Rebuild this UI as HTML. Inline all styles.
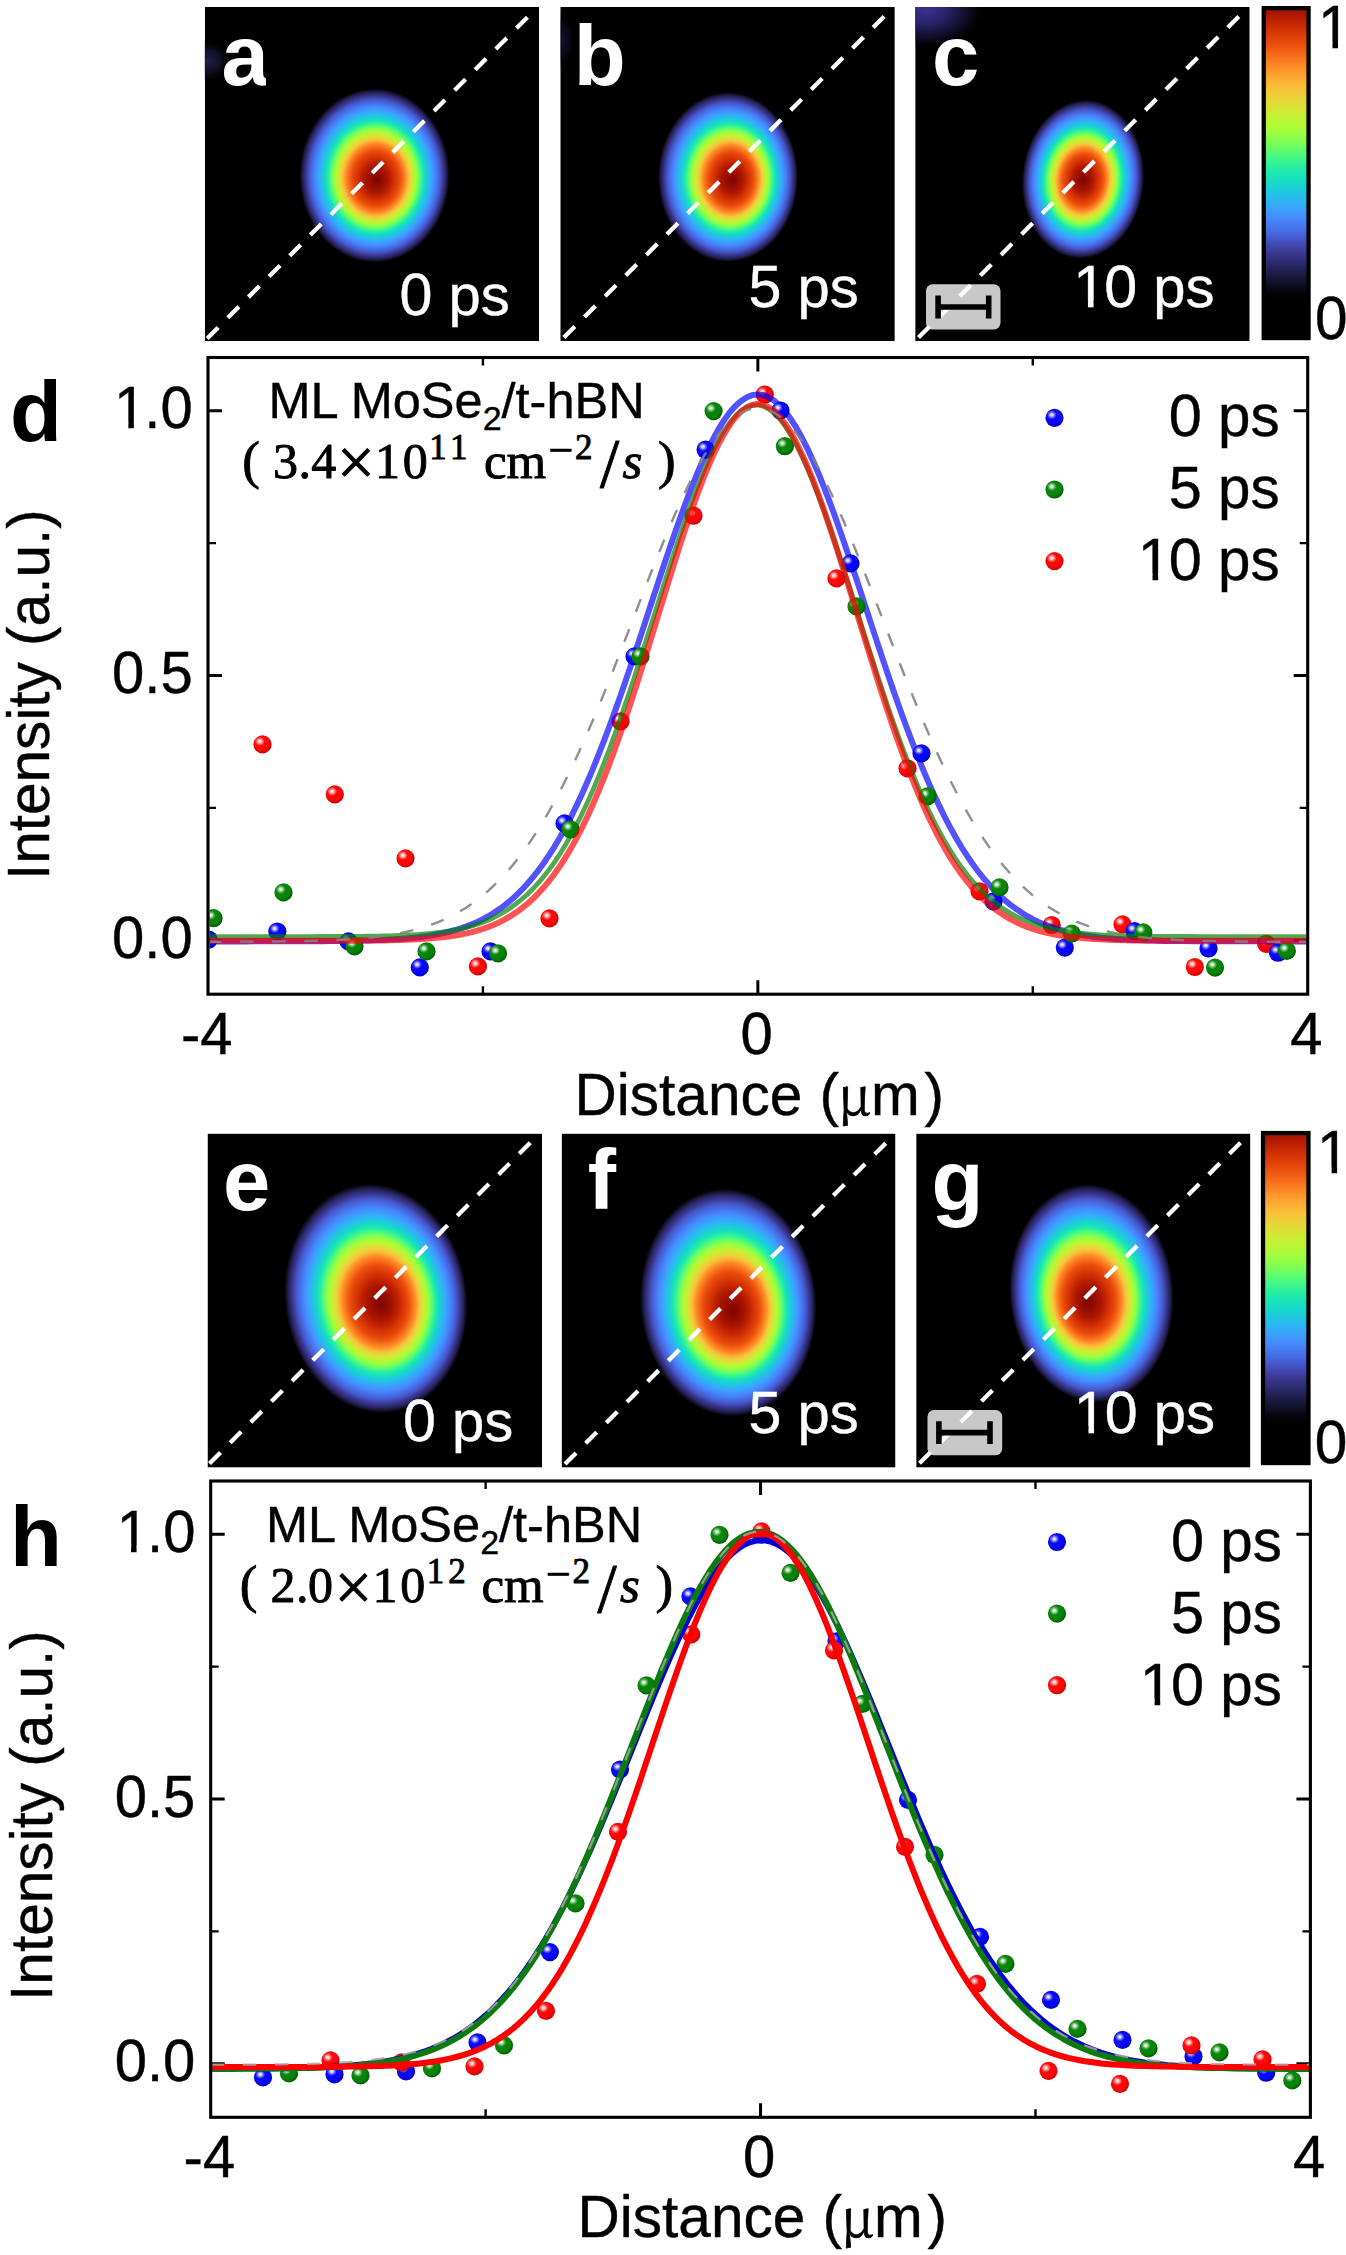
<!DOCTYPE html><html><head><meta charset="utf-8"><title>Exciton diffusion imaging: ML MoSe2/t-hBN</title><style>html,body{margin:0;padding:0;background:#fff}svg{display:block}</style></head><body><svg width="1346" height="2255" viewBox="0 0 1346 2255"><defs><linearGradient id="cb" x1="0" y1="0" x2="0" y2="1"><stop offset="0.0000" stop-color="#a41301"/><stop offset="0.0227" stop-color="#b71d02"/><stop offset="0.0455" stop-color="#ca2a04"/><stop offset="0.0682" stop-color="#d83706"/><stop offset="0.0909" stop-color="#e4450a"/><stop offset="0.1136" stop-color="#ed5510"/><stop offset="0.1364" stop-color="#f56918"/><stop offset="0.1591" stop-color="#fb7e21"/><stop offset="0.1818" stop-color="#fe932a"/><stop offset="0.2045" stop-color="#fea732"/><stop offset="0.2273" stop-color="#fbb838"/><stop offset="0.2500" stop-color="#f4c73a"/><stop offset="0.2727" stop-color="#e9d539"/><stop offset="0.2955" stop-color="#dbe236"/><stop offset="0.3182" stop-color="#cbed34"/><stop offset="0.3409" stop-color="#b9f635"/><stop offset="0.3636" stop-color="#a7fc3a"/><stop offset="0.3864" stop-color="#92ff47"/><stop offset="0.4091" stop-color="#79fe59"/><stop offset="0.4318" stop-color="#5dfc6f"/><stop offset="0.4545" stop-color="#43f787"/><stop offset="0.4773" stop-color="#2cf09e"/><stop offset="0.5000" stop-color="#1de7b2"/><stop offset="0.5227" stop-color="#18ddc2"/><stop offset="0.5455" stop-color="#1bd0d5"/><stop offset="0.5682" stop-color="#25c0e7"/><stop offset="0.5909" stop-color="#31aff5"/><stop offset="0.6136" stop-color="#3d9efe"/><stop offset="0.6364" stop-color="#458cfd"/><stop offset="0.6591" stop-color="#477bf2"/><stop offset="0.6818" stop-color="#4669e0"/><stop offset="0.7045" stop-color="#4456c7"/><stop offset="0.7273" stop-color="#4143a7"/><stop offset="0.7500" stop-color="#37358b"/><stop offset="0.7727" stop-color="#2e2c73"/><stop offset="0.7955" stop-color="#242257"/><stop offset="0.8182" stop-color="#19183d"/><stop offset="0.8409" stop-color="#0f0f24"/><stop offset="0.8636" stop-color="#05050b"/><stop offset="0.8864" stop-color="#000000"/><stop offset="0.9091" stop-color="#000000"/><stop offset="0.9318" stop-color="#000000"/><stop offset="0.9545" stop-color="#000000"/><stop offset="0.9773" stop-color="#000000"/><stop offset="1.0000" stop-color="#000000"/></linearGradient><radialGradient id="sb_b" cx="0.42" cy="0.40" r="0.62"><stop offset="0" stop-color="#0808f8"/><stop offset="0.65" stop-color="#0808f8"/><stop offset="1" stop-color="#0000c0"/></radialGradient><radialGradient id="sb_h" cx="0.5" cy="0.5" r="0.5"><stop offset="0" stop-color="#fff" stop-opacity="0.95"/><stop offset="0.3" stop-color="#fff" stop-opacity="0.8"/><stop offset="0.6" stop-color="#a0a0ff" stop-opacity="0.6"/><stop offset="1" stop-color="#a0a0ff" stop-opacity="0"/></radialGradient><g id="sb"><circle r="9.1" fill="url(#sb_b)"/><ellipse cx="-2.7" cy="-3.0" rx="5.0" ry="4.6" fill="url(#sb_h)"/></g><radialGradient id="sg_b" cx="0.42" cy="0.40" r="0.62"><stop offset="0" stop-color="#088408"/><stop offset="0.65" stop-color="#088408"/><stop offset="1" stop-color="#005c00"/></radialGradient><radialGradient id="sg_h" cx="0.5" cy="0.5" r="0.5"><stop offset="0" stop-color="#fff" stop-opacity="0.95"/><stop offset="0.3" stop-color="#fff" stop-opacity="0.8"/><stop offset="0.6" stop-color="#a0d8a0" stop-opacity="0.6"/><stop offset="1" stop-color="#a0d8a0" stop-opacity="0"/></radialGradient><g id="sg"><circle r="9.1" fill="url(#sg_b)"/><ellipse cx="-2.7" cy="-3.0" rx="5.0" ry="4.6" fill="url(#sg_h)"/></g><radialGradient id="sr_b" cx="0.42" cy="0.40" r="0.62"><stop offset="0" stop-color="#fc0808"/><stop offset="0.65" stop-color="#fc0808"/><stop offset="1" stop-color="#cc0000"/></radialGradient><radialGradient id="sr_h" cx="0.5" cy="0.5" r="0.5"><stop offset="0" stop-color="#fff" stop-opacity="0.95"/><stop offset="0.3" stop-color="#fff" stop-opacity="0.8"/><stop offset="0.6" stop-color="#ffb0b0" stop-opacity="0.6"/><stop offset="1" stop-color="#ffb0b0" stop-opacity="0"/></radialGradient><g id="sr"><circle r="9.1" fill="url(#sr_b)"/><ellipse cx="-2.7" cy="-3.0" rx="5.0" ry="4.6" fill="url(#sr_h)"/></g><radialGradient id="glc" cx="0.5" cy="0.5" r="0.5"><stop offset="0" stop-color="#3a3192"/><stop offset="0.35" stop-color="#2e2776" stop-opacity="0.9"/><stop offset="0.7" stop-color="#1a1640" stop-opacity="0.6"/><stop offset="1" stop-color="#000" stop-opacity="0"/></radialGradient><radialGradient id="gla" cx="0.5" cy="0.5" r="0.5"><stop offset="0" stop-color="#20204e"/><stop offset="0.5" stop-color="#14142f" stop-opacity="0.8"/><stop offset="1" stop-color="#000" stop-opacity="0"/></radialGradient><clipPath id="clip_a"><rect x="204.80" y="6.90" width="334.30" height="334.10"/></clipPath><radialGradient id="ga" cx="0.5" cy="0.5" r="0.5" fx="0.514" fy="0.526"><stop offset="0.0000" stop-color="#7e0502"/><stop offset="0.0179" stop-color="#810602"/><stop offset="0.0357" stop-color="#880802"/><stop offset="0.0536" stop-color="#8e0a01"/><stop offset="0.0714" stop-color="#920b01"/><stop offset="0.0893" stop-color="#980e01"/><stop offset="0.1071" stop-color="#9e1001"/><stop offset="0.1250" stop-color="#a41301"/><stop offset="0.1429" stop-color="#a71401"/><stop offset="0.1607" stop-color="#af1801"/><stop offset="0.1786" stop-color="#b71d02"/><stop offset="0.1964" stop-color="#be2102"/><stop offset="0.2143" stop-color="#c52603"/><stop offset="0.2321" stop-color="#ce2d04"/><stop offset="0.2500" stop-color="#d43305"/><stop offset="0.2679" stop-color="#da3907"/><stop offset="0.2857" stop-color="#df3f08"/><stop offset="0.3036" stop-color="#e5470b"/><stop offset="0.3214" stop-color="#ea4e0d"/><stop offset="0.3393" stop-color="#f05b12"/><stop offset="0.3571" stop-color="#f56918"/><stop offset="0.3750" stop-color="#f9781e"/><stop offset="0.3929" stop-color="#fc8725"/><stop offset="0.4107" stop-color="#fe992c"/><stop offset="0.4286" stop-color="#fcb136"/><stop offset="0.4464" stop-color="#f5c53a"/><stop offset="0.4643" stop-color="#e9d539"/><stop offset="0.4821" stop-color="#dbe236"/><stop offset="0.5000" stop-color="#cbed34"/><stop offset="0.5179" stop-color="#b9f635"/><stop offset="0.5357" stop-color="#a7fc3a"/><stop offset="0.5536" stop-color="#92ff47"/><stop offset="0.5714" stop-color="#79fe59"/><stop offset="0.5893" stop-color="#5dfc6f"/><stop offset="0.6071" stop-color="#43f787"/><stop offset="0.6250" stop-color="#2cf09e"/><stop offset="0.6429" stop-color="#1de7b2"/><stop offset="0.6607" stop-color="#18ddc2"/><stop offset="0.6786" stop-color="#1ad2d2"/><stop offset="0.6964" stop-color="#1fc9dd"/><stop offset="0.7143" stop-color="#27bee9"/><stop offset="0.7321" stop-color="#2fb2f4"/><stop offset="0.7500" stop-color="#37a8fa"/><stop offset="0.7679" stop-color="#3e9bfe"/><stop offset="0.7857" stop-color="#4391fe"/><stop offset="0.8036" stop-color="#4685fa"/><stop offset="0.8214" stop-color="#477bf2"/><stop offset="0.8393" stop-color="#476ee6"/><stop offset="0.8571" stop-color="#4664da"/><stop offset="0.8750" stop-color="#4559cb"/><stop offset="0.8929" stop-color="#424bb5"/><stop offset="0.9107" stop-color="#3c3b99"/><stop offset="0.9286" stop-color="#333281"/><stop offset="0.9464" stop-color="#2a2867"/><stop offset="0.9643" stop-color="#1e1c48"/><stop offset="0.9821" stop-color="#0f0e23"/><stop offset="1.0000" stop-color="#000000"/></radialGradient><clipPath id="clip_b"><rect x="560.30" y="6.90" width="334.50" height="334.10"/></clipPath><radialGradient id="gb" cx="0.5" cy="0.5" r="0.5" fx="0.532" fy="0.518"><stop offset="0.0000" stop-color="#7e0502"/><stop offset="0.0179" stop-color="#810602"/><stop offset="0.0357" stop-color="#880802"/><stop offset="0.0536" stop-color="#8e0a01"/><stop offset="0.0714" stop-color="#920b01"/><stop offset="0.0893" stop-color="#980e01"/><stop offset="0.1071" stop-color="#9e1001"/><stop offset="0.1250" stop-color="#a41301"/><stop offset="0.1429" stop-color="#a71401"/><stop offset="0.1607" stop-color="#af1801"/><stop offset="0.1786" stop-color="#b71d02"/><stop offset="0.1964" stop-color="#be2102"/><stop offset="0.2143" stop-color="#c52603"/><stop offset="0.2321" stop-color="#ce2d04"/><stop offset="0.2500" stop-color="#d43305"/><stop offset="0.2679" stop-color="#da3907"/><stop offset="0.2857" stop-color="#df3f08"/><stop offset="0.3036" stop-color="#e5470b"/><stop offset="0.3214" stop-color="#ea4e0d"/><stop offset="0.3393" stop-color="#f05b12"/><stop offset="0.3571" stop-color="#f56918"/><stop offset="0.3750" stop-color="#f9781e"/><stop offset="0.3929" stop-color="#fc8725"/><stop offset="0.4107" stop-color="#fe992c"/><stop offset="0.4286" stop-color="#fcb136"/><stop offset="0.4464" stop-color="#f5c53a"/><stop offset="0.4643" stop-color="#e9d539"/><stop offset="0.4821" stop-color="#dbe236"/><stop offset="0.5000" stop-color="#cbed34"/><stop offset="0.5179" stop-color="#b9f635"/><stop offset="0.5357" stop-color="#a7fc3a"/><stop offset="0.5536" stop-color="#92ff47"/><stop offset="0.5714" stop-color="#79fe59"/><stop offset="0.5893" stop-color="#5dfc6f"/><stop offset="0.6071" stop-color="#43f787"/><stop offset="0.6250" stop-color="#2cf09e"/><stop offset="0.6429" stop-color="#1de7b2"/><stop offset="0.6607" stop-color="#18ddc2"/><stop offset="0.6786" stop-color="#1ad2d2"/><stop offset="0.6964" stop-color="#1fc9dd"/><stop offset="0.7143" stop-color="#27bee9"/><stop offset="0.7321" stop-color="#2fb2f4"/><stop offset="0.7500" stop-color="#37a8fa"/><stop offset="0.7679" stop-color="#3e9bfe"/><stop offset="0.7857" stop-color="#4391fe"/><stop offset="0.8036" stop-color="#4685fa"/><stop offset="0.8214" stop-color="#477bf2"/><stop offset="0.8393" stop-color="#476ee6"/><stop offset="0.8571" stop-color="#4664da"/><stop offset="0.8750" stop-color="#4559cb"/><stop offset="0.8929" stop-color="#424bb5"/><stop offset="0.9107" stop-color="#3c3b99"/><stop offset="0.9286" stop-color="#333281"/><stop offset="0.9464" stop-color="#2a2867"/><stop offset="0.9643" stop-color="#1e1c48"/><stop offset="0.9821" stop-color="#0f0e23"/><stop offset="1.0000" stop-color="#000000"/></radialGradient><clipPath id="clip_c"><rect x="915.20" y="6.90" width="334.50" height="334.10"/></clipPath><radialGradient id="gc" cx="0.5" cy="0.5" r="0.5" fx="0.501" fy="0.505"><stop offset="0.0000" stop-color="#7e0502"/><stop offset="0.0179" stop-color="#810602"/><stop offset="0.0357" stop-color="#880802"/><stop offset="0.0536" stop-color="#8e0a01"/><stop offset="0.0714" stop-color="#920b01"/><stop offset="0.0893" stop-color="#980e01"/><stop offset="0.1071" stop-color="#9e1001"/><stop offset="0.1250" stop-color="#a41301"/><stop offset="0.1429" stop-color="#a71401"/><stop offset="0.1607" stop-color="#af1801"/><stop offset="0.1786" stop-color="#b71d02"/><stop offset="0.1964" stop-color="#be2102"/><stop offset="0.2143" stop-color="#c52603"/><stop offset="0.2321" stop-color="#ce2d04"/><stop offset="0.2500" stop-color="#d43305"/><stop offset="0.2679" stop-color="#da3907"/><stop offset="0.2857" stop-color="#df3f08"/><stop offset="0.3036" stop-color="#e5470b"/><stop offset="0.3214" stop-color="#ea4e0d"/><stop offset="0.3393" stop-color="#f05b12"/><stop offset="0.3571" stop-color="#f56918"/><stop offset="0.3750" stop-color="#f9781e"/><stop offset="0.3929" stop-color="#fc8725"/><stop offset="0.4107" stop-color="#fe992c"/><stop offset="0.4286" stop-color="#fcb136"/><stop offset="0.4464" stop-color="#f5c53a"/><stop offset="0.4643" stop-color="#e9d539"/><stop offset="0.4821" stop-color="#dbe236"/><stop offset="0.5000" stop-color="#cbed34"/><stop offset="0.5179" stop-color="#b9f635"/><stop offset="0.5357" stop-color="#a7fc3a"/><stop offset="0.5536" stop-color="#92ff47"/><stop offset="0.5714" stop-color="#79fe59"/><stop offset="0.5893" stop-color="#5dfc6f"/><stop offset="0.6071" stop-color="#43f787"/><stop offset="0.6250" stop-color="#2cf09e"/><stop offset="0.6429" stop-color="#1de7b2"/><stop offset="0.6607" stop-color="#18ddc2"/><stop offset="0.6786" stop-color="#1ad2d2"/><stop offset="0.6964" stop-color="#1fc9dd"/><stop offset="0.7143" stop-color="#27bee9"/><stop offset="0.7321" stop-color="#2fb2f4"/><stop offset="0.7500" stop-color="#37a8fa"/><stop offset="0.7679" stop-color="#3e9bfe"/><stop offset="0.7857" stop-color="#4391fe"/><stop offset="0.8036" stop-color="#4685fa"/><stop offset="0.8214" stop-color="#477bf2"/><stop offset="0.8393" stop-color="#476ee6"/><stop offset="0.8571" stop-color="#4664da"/><stop offset="0.8750" stop-color="#4559cb"/><stop offset="0.8929" stop-color="#424bb5"/><stop offset="0.9107" stop-color="#3c3b99"/><stop offset="0.9286" stop-color="#333281"/><stop offset="0.9464" stop-color="#2a2867"/><stop offset="0.9643" stop-color="#1e1c48"/><stop offset="0.9821" stop-color="#0f0e23"/><stop offset="1.0000" stop-color="#000000"/></radialGradient><clipPath id="clip_e"><rect x="207.50" y="1133.60" width="334.50" height="334.00"/></clipPath><radialGradient id="ge" cx="0.5" cy="0.5" r="0.5" fx="0.524" fy="0.527"><stop offset="0.0000" stop-color="#7e0502"/><stop offset="0.0179" stop-color="#810602"/><stop offset="0.0357" stop-color="#880802"/><stop offset="0.0536" stop-color="#8e0a01"/><stop offset="0.0714" stop-color="#920b01"/><stop offset="0.0893" stop-color="#980e01"/><stop offset="0.1071" stop-color="#9e1001"/><stop offset="0.1250" stop-color="#a41301"/><stop offset="0.1429" stop-color="#a71401"/><stop offset="0.1607" stop-color="#af1801"/><stop offset="0.1786" stop-color="#b71d02"/><stop offset="0.1964" stop-color="#be2102"/><stop offset="0.2143" stop-color="#c52603"/><stop offset="0.2321" stop-color="#ce2d04"/><stop offset="0.2500" stop-color="#d43305"/><stop offset="0.2679" stop-color="#da3907"/><stop offset="0.2857" stop-color="#df3f08"/><stop offset="0.3036" stop-color="#e5470b"/><stop offset="0.3214" stop-color="#ea4e0d"/><stop offset="0.3393" stop-color="#f05b12"/><stop offset="0.3571" stop-color="#f56918"/><stop offset="0.3750" stop-color="#f9781e"/><stop offset="0.3929" stop-color="#fc8725"/><stop offset="0.4107" stop-color="#fe992c"/><stop offset="0.4286" stop-color="#fcb136"/><stop offset="0.4464" stop-color="#f5c53a"/><stop offset="0.4643" stop-color="#e9d539"/><stop offset="0.4821" stop-color="#dbe236"/><stop offset="0.5000" stop-color="#cbed34"/><stop offset="0.5179" stop-color="#b9f635"/><stop offset="0.5357" stop-color="#a7fc3a"/><stop offset="0.5536" stop-color="#92ff47"/><stop offset="0.5714" stop-color="#79fe59"/><stop offset="0.5893" stop-color="#5dfc6f"/><stop offset="0.6071" stop-color="#43f787"/><stop offset="0.6250" stop-color="#2cf09e"/><stop offset="0.6429" stop-color="#1de7b2"/><stop offset="0.6607" stop-color="#18ddc2"/><stop offset="0.6786" stop-color="#1ad2d2"/><stop offset="0.6964" stop-color="#1fc9dd"/><stop offset="0.7143" stop-color="#27bee9"/><stop offset="0.7321" stop-color="#2fb2f4"/><stop offset="0.7500" stop-color="#37a8fa"/><stop offset="0.7679" stop-color="#3e9bfe"/><stop offset="0.7857" stop-color="#4391fe"/><stop offset="0.8036" stop-color="#4685fa"/><stop offset="0.8214" stop-color="#477bf2"/><stop offset="0.8393" stop-color="#476ee6"/><stop offset="0.8571" stop-color="#4664da"/><stop offset="0.8750" stop-color="#4559cb"/><stop offset="0.8929" stop-color="#424bb5"/><stop offset="0.9107" stop-color="#3c3b99"/><stop offset="0.9286" stop-color="#333281"/><stop offset="0.9464" stop-color="#2a2867"/><stop offset="0.9643" stop-color="#1e1c48"/><stop offset="0.9821" stop-color="#0f0e23"/><stop offset="1.0000" stop-color="#000000"/></radialGradient><clipPath id="clip_f"><rect x="561.60" y="1133.60" width="333.90" height="334.00"/></clipPath><radialGradient id="gf" cx="0.5" cy="0.5" r="0.5" fx="0.522" fy="0.541"><stop offset="0.0000" stop-color="#7e0502"/><stop offset="0.0179" stop-color="#810602"/><stop offset="0.0357" stop-color="#880802"/><stop offset="0.0536" stop-color="#8e0a01"/><stop offset="0.0714" stop-color="#920b01"/><stop offset="0.0893" stop-color="#980e01"/><stop offset="0.1071" stop-color="#9e1001"/><stop offset="0.1250" stop-color="#a41301"/><stop offset="0.1429" stop-color="#a71401"/><stop offset="0.1607" stop-color="#af1801"/><stop offset="0.1786" stop-color="#b71d02"/><stop offset="0.1964" stop-color="#be2102"/><stop offset="0.2143" stop-color="#c52603"/><stop offset="0.2321" stop-color="#ce2d04"/><stop offset="0.2500" stop-color="#d43305"/><stop offset="0.2679" stop-color="#da3907"/><stop offset="0.2857" stop-color="#df3f08"/><stop offset="0.3036" stop-color="#e5470b"/><stop offset="0.3214" stop-color="#ea4e0d"/><stop offset="0.3393" stop-color="#f05b12"/><stop offset="0.3571" stop-color="#f56918"/><stop offset="0.3750" stop-color="#f9781e"/><stop offset="0.3929" stop-color="#fc8725"/><stop offset="0.4107" stop-color="#fe992c"/><stop offset="0.4286" stop-color="#fcb136"/><stop offset="0.4464" stop-color="#f5c53a"/><stop offset="0.4643" stop-color="#e9d539"/><stop offset="0.4821" stop-color="#dbe236"/><stop offset="0.5000" stop-color="#cbed34"/><stop offset="0.5179" stop-color="#b9f635"/><stop offset="0.5357" stop-color="#a7fc3a"/><stop offset="0.5536" stop-color="#92ff47"/><stop offset="0.5714" stop-color="#79fe59"/><stop offset="0.5893" stop-color="#5dfc6f"/><stop offset="0.6071" stop-color="#43f787"/><stop offset="0.6250" stop-color="#2cf09e"/><stop offset="0.6429" stop-color="#1de7b2"/><stop offset="0.6607" stop-color="#18ddc2"/><stop offset="0.6786" stop-color="#1ad2d2"/><stop offset="0.6964" stop-color="#1fc9dd"/><stop offset="0.7143" stop-color="#27bee9"/><stop offset="0.7321" stop-color="#2fb2f4"/><stop offset="0.7500" stop-color="#37a8fa"/><stop offset="0.7679" stop-color="#3e9bfe"/><stop offset="0.7857" stop-color="#4391fe"/><stop offset="0.8036" stop-color="#4685fa"/><stop offset="0.8214" stop-color="#477bf2"/><stop offset="0.8393" stop-color="#476ee6"/><stop offset="0.8571" stop-color="#4664da"/><stop offset="0.8750" stop-color="#4559cb"/><stop offset="0.8929" stop-color="#424bb5"/><stop offset="0.9107" stop-color="#3c3b99"/><stop offset="0.9286" stop-color="#333281"/><stop offset="0.9464" stop-color="#2a2867"/><stop offset="0.9643" stop-color="#1e1c48"/><stop offset="0.9821" stop-color="#0f0e23"/><stop offset="1.0000" stop-color="#000000"/></radialGradient><clipPath id="clip_g"><rect x="916.20" y="1133.60" width="334.20" height="334.00"/></clipPath><radialGradient id="gg" cx="0.5" cy="0.5" r="0.5" fx="0.474" fy="0.541"><stop offset="0.0000" stop-color="#7e0502"/><stop offset="0.0179" stop-color="#810602"/><stop offset="0.0357" stop-color="#880802"/><stop offset="0.0536" stop-color="#8e0a01"/><stop offset="0.0714" stop-color="#920b01"/><stop offset="0.0893" stop-color="#980e01"/><stop offset="0.1071" stop-color="#9e1001"/><stop offset="0.1250" stop-color="#a41301"/><stop offset="0.1429" stop-color="#a71401"/><stop offset="0.1607" stop-color="#af1801"/><stop offset="0.1786" stop-color="#b71d02"/><stop offset="0.1964" stop-color="#be2102"/><stop offset="0.2143" stop-color="#c52603"/><stop offset="0.2321" stop-color="#ce2d04"/><stop offset="0.2500" stop-color="#d43305"/><stop offset="0.2679" stop-color="#da3907"/><stop offset="0.2857" stop-color="#df3f08"/><stop offset="0.3036" stop-color="#e5470b"/><stop offset="0.3214" stop-color="#ea4e0d"/><stop offset="0.3393" stop-color="#f05b12"/><stop offset="0.3571" stop-color="#f56918"/><stop offset="0.3750" stop-color="#f9781e"/><stop offset="0.3929" stop-color="#fc8725"/><stop offset="0.4107" stop-color="#fe992c"/><stop offset="0.4286" stop-color="#fcb136"/><stop offset="0.4464" stop-color="#f5c53a"/><stop offset="0.4643" stop-color="#e9d539"/><stop offset="0.4821" stop-color="#dbe236"/><stop offset="0.5000" stop-color="#cbed34"/><stop offset="0.5179" stop-color="#b9f635"/><stop offset="0.5357" stop-color="#a7fc3a"/><stop offset="0.5536" stop-color="#92ff47"/><stop offset="0.5714" stop-color="#79fe59"/><stop offset="0.5893" stop-color="#5dfc6f"/><stop offset="0.6071" stop-color="#43f787"/><stop offset="0.6250" stop-color="#2cf09e"/><stop offset="0.6429" stop-color="#1de7b2"/><stop offset="0.6607" stop-color="#18ddc2"/><stop offset="0.6786" stop-color="#1ad2d2"/><stop offset="0.6964" stop-color="#1fc9dd"/><stop offset="0.7143" stop-color="#27bee9"/><stop offset="0.7321" stop-color="#2fb2f4"/><stop offset="0.7500" stop-color="#37a8fa"/><stop offset="0.7679" stop-color="#3e9bfe"/><stop offset="0.7857" stop-color="#4391fe"/><stop offset="0.8036" stop-color="#4685fa"/><stop offset="0.8214" stop-color="#477bf2"/><stop offset="0.8393" stop-color="#476ee6"/><stop offset="0.8571" stop-color="#4664da"/><stop offset="0.8750" stop-color="#4559cb"/><stop offset="0.8929" stop-color="#424bb5"/><stop offset="0.9107" stop-color="#3c3b99"/><stop offset="0.9286" stop-color="#333281"/><stop offset="0.9464" stop-color="#2a2867"/><stop offset="0.9643" stop-color="#1e1c48"/><stop offset="0.9821" stop-color="#0f0e23"/><stop offset="1.0000" stop-color="#000000"/></radialGradient><clipPath id="clip_d"><rect x="209.50" y="359.00" width="1096.70" height="633.70"/></clipPath><clipPath id="clip_h"><rect x="212.20" y="1482.50" width="1096.70" height="633.30"/></clipPath></defs><rect width="100%" height="100%" fill="#fff"/><g clip-path="url(#clip_a)">
<rect x="204.80" y="6.90" width="334.30" height="334.10" fill="#000"/>
<ellipse cx="208" cy="61" rx="24" ry="22" fill="url(#gla)"/>
<ellipse cx="374.50" cy="175.50" rx="75.00" ry="87.00" fill="url(#ga)" transform="rotate(0.00 374.50 175.50)"/>
<line x1="207.20" y1="338.50" x2="527.60" y2="17.10" stroke="#fff" stroke-width="4.3" stroke-dasharray="15.6 13.6"/>
</g>
<text x="221.50" y="84.80" font-family="'Liberation Sans', sans-serif" font-weight="bold" font-size="85" fill="#fff">a</text>
<rect x="265.95" y="68.30" width="8" height="18" fill="#000"/>
<text y="314.60" font-family="'Liberation Sans', sans-serif" font-size="58.00" fill="#fff" stroke="#fff" stroke-width="0.4"><tspan x="399.43" font-size="59.16">0</tspan><tspan x="432.33" font-size="58.00"> ps</tspan></text>
<g clip-path="url(#clip_b)">
<rect x="560.30" y="6.90" width="334.50" height="334.10" fill="#000"/>
<ellipse cx="562" cy="40" rx="14" ry="30" fill="url(#gla)" opacity="0.6"/>
<ellipse cx="728.00" cy="177.00" rx="70.00" ry="85.00" fill="url(#gb)" transform="rotate(0.00 728.00 177.00)"/>
<line x1="563.80" y1="337.60" x2="884.40" y2="16.20" stroke="#fff" stroke-width="4.3" stroke-dasharray="15.6 13.6"/>
</g>
<text x="573.70" y="84.80" font-family="'Liberation Sans', sans-serif" font-weight="bold" font-size="85" fill="#fff">b</text>
<text y="307.30" font-family="'Liberation Sans', sans-serif" font-size="58.00" fill="#fff" stroke="#fff" stroke-width="0.4"><tspan x="748.43" font-size="59.16">5</tspan><tspan x="781.33" font-size="58.00"> ps</tspan></text>
<g clip-path="url(#clip_c)">
<rect x="915.20" y="6.90" width="334.50" height="334.10" fill="#000"/>
<ellipse cx="925" cy="10" rx="62" ry="40" fill="url(#glc)"/>
<ellipse cx="1083.00" cy="179.20" rx="61.00" ry="79.50" fill="url(#gc)" transform="rotate(5.00 1083.00 179.20)"/>
<rect x="926.00" y="284.30" width="74.50" height="45.20" rx="6.5" ry="6.5" fill="#c8c8c8"/>
<line x1="918.50" y1="337.60" x2="1239.00" y2="16.20" stroke="#fff" stroke-width="4.3" stroke-dasharray="15.6 13.6"/>
<path d="M938.10 295.50 V318.50 M988.70 295.50 V318.50 M935.30 307.00 H991.50" stroke="#000" stroke-width="5.6" fill="none"/>
</g>
<text x="932.10" y="84.80" font-family="'Liberation Sans', sans-serif" font-weight="bold" font-size="85" fill="#fff">c</text>
<text y="307.30" font-family="'Liberation Sans', sans-serif" font-size="58.00" fill="#fff" stroke="#fff" stroke-width="0.4"><tspan x="1073.28" font-size="59.16">1</tspan><tspan x="1104.23" font-size="59.16">0</tspan><tspan x="1137.13" font-size="58.00"> ps</tspan></text><path d="M1075.64 309.30 h12.31 v-8.21 h-12.31 z M1093.57 309.30 h11.83 v-8.21 h-11.83 z" fill="#000"/>
<rect x="1261.60" y="6.00" width="49.10" height="334.20" fill="#000"/>
<rect x="1265.90" y="10.30" width="40.50" height="325.60" fill="url(#cb)"/>
<text y="47.90" font-family="'Liberation Sans', sans-serif" font-size="58.60" fill="#000" stroke="#000" stroke-width="0.4" transform="translate(0 47.90) scale(1 1.045) translate(0 -47.90)"><tspan x="1317.93" font-size="58.60">1</tspan></text><path d="M1320.28 49.90 h12.19 v-8.15 h-12.19 z M1338.03 49.90 h11.72 v-8.15 h-11.72 z" fill="#fff"/>
<text y="339.20" font-family="'Liberation Sans', sans-serif" font-size="58.60" fill="#000" stroke="#000" stroke-width="0.4" transform="translate(0 339.20) scale(1 1.045) translate(0 -339.20)"><tspan x="1314.90" font-size="58.60">0</tspan></text>
<g clip-path="url(#clip_e)">
<rect x="207.50" y="1133.60" width="334.50" height="334.00" fill="#000"/>

<ellipse cx="375.80" cy="1298.50" rx="91.00" ry="115.00" fill="url(#ge)" transform="rotate(-8.00 375.80 1298.50)"/>
<line x1="209.50" y1="1463.50" x2="531.00" y2="1142.00" stroke="#fff" stroke-width="4.3" stroke-dasharray="15.6 13.6"/>
</g>
<text x="223.10" y="1210.30" font-family="'Liberation Sans', sans-serif" font-weight="bold" font-size="85" fill="#fff">e</text>
<text y="1441.40" font-family="'Liberation Sans', sans-serif" font-size="58.00" fill="#fff" stroke="#fff" stroke-width="0.4"><tspan x="402.93" font-size="59.16">0</tspan><tspan x="435.83" font-size="58.00"> ps</tspan></text>
<g clip-path="url(#clip_f)">
<rect x="561.60" y="1133.60" width="333.90" height="334.00" fill="#000"/>

<ellipse cx="728.20" cy="1302.50" rx="88.00" ry="114.00" fill="url(#gf)" transform="rotate(-5.00 728.20 1302.50)"/>
<line x1="565.00" y1="1464.00" x2="886.00" y2="1143.00" stroke="#fff" stroke-width="4.3" stroke-dasharray="15.6 13.6"/>
</g>
<text x="587.80" y="1209.30" font-family="'Liberation Sans', sans-serif" font-weight="bold" font-size="85" fill="#fff">f</text>
<text y="1432.50" font-family="'Liberation Sans', sans-serif" font-size="58.00" fill="#fff" stroke="#fff" stroke-width="0.4"><tspan x="748.43" font-size="59.16">5</tspan><tspan x="781.33" font-size="58.00"> ps</tspan></text>
<g clip-path="url(#clip_g)">
<rect x="916.20" y="1133.60" width="334.20" height="334.00" fill="#000"/>

<ellipse cx="1091.50" cy="1293.20" rx="82.00" ry="109.20" fill="url(#gg)" transform="rotate(-5.00 1091.50 1293.20)"/>
<rect x="927.50" y="1410.00" width="74.70" height="45.20" rx="6.5" ry="6.5" fill="#c8c8c8"/>
<line x1="919.50" y1="1463.20" x2="1241.00" y2="1142.20" stroke="#fff" stroke-width="4.3" stroke-dasharray="15.6 13.6"/>
<path d="M938.90 1421.20 V1444.00 M990.00 1421.20 V1444.00 M936.10 1432.60 H992.80" stroke="#000" stroke-width="5.6" fill="none"/>
</g>
<text x="931.50" y="1210.30" font-family="'Liberation Sans', sans-serif" font-weight="bold" font-size="85" fill="#fff">g</text>
<text y="1432.80" font-family="'Liberation Sans', sans-serif" font-size="58.00" fill="#fff" stroke="#fff" stroke-width="0.4"><tspan x="1073.78" font-size="59.16">1</tspan><tspan x="1104.73" font-size="59.16">0</tspan><tspan x="1137.63" font-size="58.00"> ps</tspan></text><path d="M1076.14 1434.80 h12.31 v-8.21 h-12.31 z M1094.07 1434.80 h11.83 v-8.21 h-11.83 z" fill="#000"/>
<rect x="1260.90" y="1130.90" width="49.70" height="334.30" fill="#000"/>
<rect x="1265.20" y="1135.20" width="41.10" height="325.70" fill="url(#cb)"/>
<text y="1173.50" font-family="'Liberation Sans', sans-serif" font-size="58.60" fill="#000" stroke="#000" stroke-width="0.4" transform="translate(0 1173.50) scale(1 1.045) translate(0 -1173.50)"><tspan x="1317.03" font-size="58.60">1</tspan></text><path d="M1319.38 1175.50 h12.19 v-8.15 h-12.19 z M1337.13 1175.50 h11.72 v-8.15 h-11.72 z" fill="#fff"/>
<text y="1463.40" font-family="'Liberation Sans', sans-serif" font-size="58.60" fill="#000" stroke="#000" stroke-width="0.4" transform="translate(0 1463.40) scale(1 1.045) translate(0 -1463.40)"><tspan x="1314.70" font-size="58.60">0</tspan></text>
<path d="M757.85 357.50 v14.0 M757.85 994.20 v-14.0 M208.00 410.80 h14.0 M1307.70 410.80 h-14.0 M208.00 675.55 h14.0 M1307.70 675.55 h-14.0 M208.00 940.30 h14.0 M1307.70 940.30 h-14.0" stroke="#000" stroke-width="3" fill="none"/>
<path d="M482.93 357.50 v8.0 M482.93 994.20 v-8.0 M1032.78 357.50 v8.0 M1032.78 994.20 v-8.0 M208.00 543.17 h8.0 M1307.70 543.17 h-8.0 M208.00 807.92 h8.0 M1307.70 807.92 h-8.0" stroke="#000" stroke-width="2.4" fill="none"/>
<g clip-path="url(#clip_d)">
<use href="#sr" x="262.5" y="744.4"/>
<use href="#sr" x="334.8" y="794.4"/>
<use href="#sr" x="405.5" y="858.4"/>
<use href="#sr" x="477.9" y="966.4"/>
<use href="#sr" x="549.5" y="918.4"/>
<use href="#sr" x="620.5" y="721.4"/>
<use href="#sr" x="693.5" y="515.7"/>
<use href="#sr" x="764.8" y="394.5"/>
<use href="#sr" x="836.5" y="578.4"/>
<use href="#sr" x="907.5" y="768.4"/>
<use href="#sr" x="979.5" y="891.4"/>
<use href="#sr" x="1051.7" y="925.0"/>
<use href="#sr" x="1122.5" y="924.4"/>
<use href="#sr" x="1194.8" y="967.0"/>
<use href="#sr" x="1266.1" y="943.8"/>
<path d="M208.0 941.4 L213.5 941.4 L219.0 941.4 L224.5 941.4 L230.0 941.4 L235.5 941.4 L241.0 941.4 L246.5 941.4 L252.0 941.3 L257.5 941.3 L263.0 941.3 L268.5 941.3 L274.0 941.3 L279.5 941.3 L285.0 941.3 L290.5 941.3 L296.0 941.3 L301.5 941.3 L307.0 941.3 L312.5 941.2 L318.0 941.2 L323.5 941.2 L329.0 941.1 L334.5 941.1 L340.0 941.0 L345.5 941.0 L351.0 940.9 L356.5 940.8 L362.0 940.6 L367.5 940.5 L373.0 940.3 L378.5 940.1 L384.0 939.9 L389.5 939.6 L394.9 939.3 L400.4 938.9 L405.9 938.5 L411.4 938.0 L416.9 937.4 L422.4 936.7 L427.9 935.9 L433.4 935.0 L438.9 934.0 L444.4 932.9 L449.9 931.5 L455.4 930.0 L460.9 928.3 L466.4 926.4 L471.9 924.3 L477.4 921.9 L482.9 919.2 L488.4 916.2 L493.9 912.8 L499.4 909.1 L504.9 905.1 L510.4 900.6 L515.9 895.6 L521.4 890.2 L526.9 884.3 L532.4 877.9 L537.9 871.0 L543.4 863.5 L548.9 855.4 L554.4 846.8 L559.9 837.5 L565.4 827.6 L570.9 817.1 L576.4 805.9 L581.9 794.2 L587.4 781.8 L592.9 768.8 L598.4 755.2 L603.9 741.1 L609.4 726.5 L614.9 711.4 L620.4 695.9 L625.9 680.0 L631.4 663.7 L636.9 647.2 L642.4 630.6 L647.9 613.8 L653.4 597.0 L658.9 580.3 L664.4 563.7 L669.9 547.4 L675.4 531.4 L680.9 515.9 L686.4 500.9 L691.9 486.6 L697.4 473.0 L702.9 460.2 L708.4 448.3 L713.9 437.5 L719.4 427.7 L724.9 419.1 L730.4 411.6 L735.9 405.5 L741.4 400.7 L746.9 397.2 L752.4 395.1 L757.9 394.4 L763.3 395.1 L768.8 397.2 L774.3 400.7 L779.8 405.5 L785.3 411.6 L790.8 419.1 L796.3 427.7 L801.8 437.5 L807.3 448.3 L812.8 460.2 L818.3 473.0 L823.8 486.6 L829.3 500.9 L834.8 515.9 L840.3 531.4 L845.8 547.4 L851.3 563.7 L856.8 580.3 L862.3 597.0 L867.8 613.8 L873.3 630.6 L878.8 647.2 L884.3 663.7 L889.8 680.0 L895.3 695.9 L900.8 711.4 L906.3 726.5 L911.8 741.1 L917.3 755.2 L922.8 768.8 L928.3 781.8 L933.8 794.2 L939.3 805.9 L944.8 817.1 L950.3 827.6 L955.8 837.5 L961.3 846.8 L966.8 855.4 L972.3 863.5 L977.8 871.0 L983.3 877.9 L988.8 884.3 L994.3 890.2 L999.8 895.6 L1005.3 900.6 L1010.8 905.1 L1016.3 909.1 L1021.8 912.8 L1027.3 916.2 L1032.8 919.2 L1038.3 921.9 L1043.8 924.3 L1049.3 926.4 L1054.8 928.3 L1060.3 930.0 L1065.8 931.5 L1071.3 932.9 L1076.8 934.0 L1082.3 935.0 L1087.8 935.9 L1093.3 936.7 L1098.8 937.4 L1104.3 938.0 L1109.8 938.5 L1115.3 938.9 L1120.8 939.3 L1126.2 939.6 L1131.7 939.9 L1137.2 940.1 L1142.7 940.3 L1148.2 940.5 L1153.7 940.6 L1159.2 940.8 L1164.7 940.9 L1170.2 941.0 L1175.7 941.0 L1181.2 941.1 L1186.7 941.1 L1192.2 941.2 L1197.7 941.2 L1203.2 941.2 L1208.7 941.3 L1214.2 941.3 L1219.7 941.3 L1225.2 941.3 L1230.7 941.3 L1236.2 941.3 L1241.7 941.3 L1247.2 941.3 L1252.7 941.3 L1258.2 941.3 L1263.7 941.3 L1269.2 941.4 L1274.7 941.4 L1280.2 941.4 L1285.7 941.4 L1291.2 941.4 L1296.7 941.4 L1302.2 941.4 L1307.7 941.4" fill="none" stroke="#0000ff" stroke-width="6.0" stroke-opacity="0.68" stroke-linejoin="round"/>
<use href="#sb" x="208.7" y="939.6"/>
<use href="#sb" x="277.3" y="931.5"/>
<use href="#sb" x="348.5" y="941.4"/>
<use href="#sb" x="419.8" y="967.4"/>
<use href="#sb" x="490.5" y="951.4"/>
<use href="#sb" x="564.5" y="823.4"/>
<use href="#sb" x="634.5" y="656.4"/>
<use href="#sb" x="705.6" y="449.7"/>
<use href="#sb" x="780.5" y="410.5"/>
<use href="#sb" x="850.5" y="563.4"/>
<use href="#sb" x="921.5" y="753.4"/>
<use href="#sb" x="993.5" y="901.4"/>
<use href="#sb" x="1064.8" y="947.6"/>
<use href="#sb" x="1134.5" y="931.2"/>
<use href="#sb" x="1208.5" y="948.5"/>
<use href="#sb" x="1278.0" y="952.7"/>
<use href="#sg" x="213.5" y="918.2"/>
<use href="#sg" x="283.5" y="892.4"/>
<use href="#sg" x="354.5" y="946.4"/>
<use href="#sg" x="426.5" y="951.4"/>
<use href="#sg" x="498.0" y="953.4"/>
<use href="#sg" x="570.5" y="829.4"/>
<use href="#sg" x="640.5" y="656.4"/>
<use href="#sg" x="713.6" y="411.1"/>
<use href="#sg" x="784.9" y="446.2"/>
<use href="#sg" x="856.5" y="606.4"/>
<use href="#sg" x="927.5" y="796.4"/>
<use href="#sg" x="999.5" y="887.4"/>
<use href="#sg" x="1071.8" y="933.6"/>
<use href="#sg" x="1143.3" y="932.4"/>
<use href="#sg" x="1215.0" y="967.6"/>
<use href="#sg" x="1286.9" y="950.9"/>
<path d="M208.0 936.6 L213.5 936.6 L219.0 936.6 L224.5 936.6 L230.0 936.6 L235.5 936.6 L241.0 936.6 L246.5 936.6 L252.0 936.6 L257.5 936.6 L263.0 936.6 L268.5 936.6 L274.0 936.6 L279.5 936.6 L285.0 936.6 L290.5 936.6 L296.0 936.6 L301.5 936.6 L307.0 936.6 L312.5 936.6 L318.0 936.5 L323.5 936.5 L329.0 936.5 L334.5 936.5 L340.0 936.5 L345.5 936.4 L351.0 936.4 L356.5 936.4 L362.0 936.3 L367.5 936.2 L373.0 936.2 L378.5 936.1 L384.0 935.9 L389.5 935.8 L394.9 935.6 L400.4 935.4 L405.9 935.2 L411.4 934.9 L416.9 934.6 L422.4 934.2 L427.9 933.7 L433.4 933.1 L438.9 932.5 L444.4 931.7 L449.9 930.9 L455.4 929.9 L460.9 928.7 L466.4 927.4 L471.9 925.9 L477.4 924.2 L482.9 922.2 L488.4 920.0 L493.9 917.5 L499.4 914.6 L504.9 911.4 L510.4 907.9 L515.9 903.9 L521.4 899.5 L526.9 894.7 L532.4 889.3 L537.9 883.4 L543.4 877.0 L548.9 869.9 L554.4 862.3 L559.9 854.0 L565.4 845.0 L570.9 835.4 L576.4 825.1 L581.9 814.1 L587.4 802.4 L592.9 790.1 L598.4 777.0 L603.9 763.3 L609.4 749.0 L614.9 734.0 L620.4 718.6 L625.9 702.6 L631.4 686.2 L636.9 669.4 L642.4 652.3 L647.9 635.0 L653.4 617.6 L658.9 600.2 L664.4 582.9 L669.9 565.7 L675.4 548.9 L680.9 532.5 L686.4 516.6 L691.9 501.3 L697.4 486.9 L702.9 473.3 L708.4 460.6 L713.9 449.1 L719.4 438.7 L724.9 429.6 L730.4 421.9 L735.9 415.5 L741.4 410.6 L746.9 407.2 L752.4 405.4 L757.9 405.0 L763.3 406.3 L768.8 409.1 L774.3 413.4 L779.8 419.1 L785.3 426.4 L790.8 434.9 L796.3 444.8 L801.8 455.9 L807.3 468.1 L812.8 481.3 L818.3 495.4 L823.8 510.4 L829.3 526.0 L834.8 542.3 L840.3 559.0 L845.8 576.0 L851.3 593.3 L856.8 610.7 L862.3 628.1 L867.8 645.4 L873.3 662.6 L878.8 679.5 L884.3 696.1 L889.8 712.2 L895.3 727.9 L900.8 743.1 L906.3 757.6 L911.8 771.6 L917.3 784.9 L922.8 797.6 L928.3 809.5 L933.8 820.8 L939.3 831.4 L944.8 841.3 L950.3 850.5 L955.8 859.0 L961.3 867.0 L966.8 874.2 L972.3 880.9 L977.8 887.0 L983.3 892.6 L988.8 897.7 L994.3 902.2 L999.8 906.4 L1005.3 910.1 L1010.8 913.4 L1016.3 916.4 L1021.8 919.0 L1027.3 921.3 L1032.8 923.4 L1038.3 925.2 L1043.8 926.8 L1049.3 928.2 L1054.8 929.4 L1060.3 930.5 L1065.8 931.4 L1071.3 932.2 L1076.8 932.9 L1082.3 933.5 L1087.8 934.0 L1093.3 934.4 L1098.8 934.8 L1104.3 935.1 L1109.8 935.3 L1115.3 935.5 L1120.8 935.7 L1126.2 935.9 L1131.7 936.0 L1137.2 936.1 L1142.7 936.2 L1148.2 936.3 L1153.7 936.3 L1159.2 936.4 L1164.7 936.4 L1170.2 936.5 L1175.7 936.5 L1181.2 936.5 L1186.7 936.5 L1192.2 936.5 L1197.7 936.6 L1203.2 936.6 L1208.7 936.6 L1214.2 936.6 L1219.7 936.6 L1225.2 936.6 L1230.7 936.6 L1236.2 936.6 L1241.7 936.6 L1247.2 936.6 L1252.7 936.6 L1258.2 936.6 L1263.7 936.6 L1269.2 936.6 L1274.7 936.6 L1280.2 936.6 L1285.7 936.6 L1291.2 936.6 L1296.7 936.6 L1302.2 936.6 L1307.7 936.6" fill="none" stroke="#008000" stroke-width="4.8" stroke-opacity="0.68" stroke-linejoin="round"/>
<path d="M208.0 940.8 L213.5 940.8 L219.0 940.8 L224.5 940.8 L230.0 940.8 L235.5 940.8 L241.0 940.8 L246.5 940.8 L252.0 940.8 L257.5 940.8 L263.0 940.8 L268.5 940.8 L274.0 940.8 L279.5 940.8 L285.0 940.8 L290.5 940.8 L296.0 940.8 L301.5 940.8 L307.0 940.8 L312.5 940.8 L318.0 940.8 L323.5 940.8 L329.0 940.8 L334.5 940.8 L340.0 940.7 L345.5 940.7 L351.0 940.7 L356.5 940.7 L362.0 940.6 L367.5 940.6 L373.0 940.5 L378.5 940.4 L384.0 940.4 L389.5 940.3 L394.9 940.1 L400.4 940.0 L405.9 939.8 L411.4 939.6 L416.9 939.3 L422.4 939.0 L427.9 938.6 L433.4 938.1 L438.9 937.6 L444.4 937.0 L449.9 936.3 L455.4 935.5 L460.9 934.5 L466.4 933.4 L471.9 932.1 L477.4 930.6 L482.9 928.9 L488.4 926.9 L493.9 924.7 L499.4 922.2 L504.9 919.4 L510.4 916.2 L515.9 912.6 L521.4 908.6 L526.9 904.2 L532.4 899.3 L537.9 893.8 L543.4 887.8 L548.9 881.2 L554.4 874.0 L559.9 866.1 L565.4 857.6 L570.9 848.4 L576.4 838.5 L581.9 827.8 L587.4 816.5 L592.9 804.4 L598.4 791.5 L603.9 778.0 L609.4 763.8 L614.9 748.9 L620.4 733.4 L625.9 717.4 L631.4 700.8 L636.9 683.8 L642.4 666.4 L647.9 648.7 L653.4 630.9 L658.9 612.9 L664.4 595.0 L669.9 577.2 L675.4 559.6 L680.9 542.4 L686.4 525.7 L691.9 509.6 L697.4 494.2 L702.9 479.7 L708.4 466.2 L713.9 453.7 L719.4 442.5 L724.9 432.5 L730.4 424.0 L735.9 416.8 L741.4 411.2 L746.9 407.2 L752.4 404.7 L757.9 403.9 L763.3 404.7 L768.8 407.2 L774.3 411.2 L779.8 416.8 L785.3 424.0 L790.8 432.5 L796.3 442.5 L801.8 453.7 L807.3 466.2 L812.8 479.7 L818.3 494.2 L823.8 509.6 L829.3 525.7 L834.8 542.4 L840.3 559.6 L845.8 577.2 L851.3 595.0 L856.8 612.9 L862.3 630.9 L867.8 648.7 L873.3 666.4 L878.8 683.8 L884.3 700.8 L889.8 717.4 L895.3 733.4 L900.8 748.9 L906.3 763.8 L911.8 778.0 L917.3 791.5 L922.8 804.4 L928.3 816.5 L933.8 827.8 L939.3 838.5 L944.8 848.4 L950.3 857.6 L955.8 866.1 L961.3 874.0 L966.8 881.2 L972.3 887.8 L977.8 893.8 L983.3 899.3 L988.8 904.2 L994.3 908.6 L999.8 912.6 L1005.3 916.2 L1010.8 919.4 L1016.3 922.2 L1021.8 924.7 L1027.3 926.9 L1032.8 928.9 L1038.3 930.6 L1043.8 932.1 L1049.3 933.4 L1054.8 934.5 L1060.3 935.5 L1065.8 936.3 L1071.3 937.0 L1076.8 937.6 L1082.3 938.1 L1087.8 938.6 L1093.3 939.0 L1098.8 939.3 L1104.3 939.6 L1109.8 939.8 L1115.3 940.0 L1120.8 940.1 L1126.2 940.3 L1131.7 940.4 L1137.2 940.4 L1142.7 940.5 L1148.2 940.6 L1153.7 940.6 L1159.2 940.7 L1164.7 940.7 L1170.2 940.7 L1175.7 940.7 L1181.2 940.8 L1186.7 940.8 L1192.2 940.8 L1197.7 940.8 L1203.2 940.8 L1208.7 940.8 L1214.2 940.8 L1219.7 940.8 L1225.2 940.8 L1230.7 940.8 L1236.2 940.8 L1241.7 940.8 L1247.2 940.8 L1252.7 940.8 L1258.2 940.8 L1263.7 940.8 L1269.2 940.8 L1274.7 940.8 L1280.2 940.8 L1285.7 940.8 L1291.2 940.8 L1296.7 940.8 L1302.2 940.8 L1307.7 940.8" fill="none" stroke="#ff0000" stroke-width="6.0" stroke-opacity="0.68" stroke-linejoin="round"/>
<path d="M208.0 941.7 L213.5 941.7 L219.0 941.7 L224.5 941.7 L230.0 941.7 L235.5 941.7 L241.0 941.6 L246.5 941.6 L252.0 941.6 L257.5 941.6 L263.0 941.5 L268.5 941.5 L274.0 941.5 L279.5 941.4 L285.0 941.3 L290.5 941.3 L296.0 941.2 L301.5 941.1 L307.0 941.0 L312.5 940.9 L318.0 940.7 L323.5 940.5 L329.0 940.3 L334.5 940.1 L340.0 939.8 L345.5 939.5 L351.0 939.2 L356.5 938.8 L362.0 938.4 L367.5 937.9 L373.0 937.3 L378.5 936.6 L384.0 935.9 L389.5 935.1 L394.9 934.2 L400.4 933.1 L405.9 932.0 L411.4 930.7 L416.9 929.2 L422.4 927.6 L427.9 925.9 L433.4 923.9 L438.9 921.8 L444.4 919.4 L449.9 916.8 L455.4 913.9 L460.9 910.8 L466.4 907.4 L471.9 903.7 L477.4 899.7 L482.9 895.3 L488.4 890.6 L493.9 885.5 L499.4 880.1 L504.9 874.2 L510.4 867.9 L515.9 861.2 L521.4 854.1 L526.9 846.5 L532.4 838.4 L537.9 829.9 L543.4 821.0 L548.9 811.5 L554.4 801.6 L559.9 791.3 L565.4 780.5 L570.9 769.2 L576.4 757.6 L581.9 745.5 L587.4 733.0 L592.9 720.2 L598.4 707.1 L603.9 693.6 L609.4 679.9 L614.9 666.0 L620.4 651.9 L625.9 637.7 L631.4 623.5 L636.9 609.2 L642.4 594.9 L647.9 580.7 L653.4 566.7 L658.9 552.9 L664.4 539.4 L669.9 526.2 L675.4 513.4 L680.9 501.1 L686.4 489.3 L691.9 478.2 L697.4 467.6 L702.9 457.8 L708.4 448.7 L713.9 440.5 L719.4 433.1 L724.9 426.6 L730.4 421.0 L735.9 416.4 L741.4 412.8 L746.9 410.2 L752.4 408.7 L757.9 408.2 L763.3 408.7 L768.8 410.2 L774.3 412.8 L779.8 416.4 L785.3 421.0 L790.8 426.6 L796.3 433.1 L801.8 440.5 L807.3 448.7 L812.8 457.8 L818.3 467.6 L823.8 478.2 L829.3 489.3 L834.8 501.1 L840.3 513.4 L845.8 526.2 L851.3 539.4 L856.8 552.9 L862.3 566.7 L867.8 580.7 L873.3 594.9 L878.8 609.2 L884.3 623.5 L889.8 637.7 L895.3 651.9 L900.8 666.0 L906.3 679.9 L911.8 693.6 L917.3 707.1 L922.8 720.2 L928.3 733.0 L933.8 745.5 L939.3 757.6 L944.8 769.2 L950.3 780.5 L955.8 791.3 L961.3 801.6 L966.8 811.5 L972.3 821.0 L977.8 829.9 L983.3 838.4 L988.8 846.5 L994.3 854.1 L999.8 861.2 L1005.3 867.9 L1010.8 874.2 L1016.3 880.1 L1021.8 885.5 L1027.3 890.6 L1032.8 895.3 L1038.3 899.7 L1043.8 903.7 L1049.3 907.4 L1054.8 910.8 L1060.3 913.9 L1065.8 916.8 L1071.3 919.4 L1076.8 921.8 L1082.3 923.9 L1087.8 925.9 L1093.3 927.6 L1098.8 929.2 L1104.3 930.7 L1109.8 932.0 L1115.3 933.1 L1120.8 934.2 L1126.2 935.1 L1131.7 935.9 L1137.2 936.6 L1142.7 937.3 L1148.2 937.9 L1153.7 938.4 L1159.2 938.8 L1164.7 939.2 L1170.2 939.5 L1175.7 939.8 L1181.2 940.1 L1186.7 940.3 L1192.2 940.5 L1197.7 940.7 L1203.2 940.9 L1208.7 941.0 L1214.2 941.1 L1219.7 941.2 L1225.2 941.3 L1230.7 941.3 L1236.2 941.4 L1241.7 941.5 L1247.2 941.5 L1252.7 941.5 L1258.2 941.6 L1263.7 941.6 L1269.2 941.6 L1274.7 941.6 L1280.2 941.7 L1285.7 941.7 L1291.2 941.7 L1296.7 941.7 L1302.2 941.7 L1307.7 941.7" fill="none" stroke="#848484" stroke-width="2.4" stroke-opacity="0.90" stroke-linejoin="round" stroke-dasharray="13.5 18.6"/>
</g>
<rect x="208.00" y="357.50" width="1099.70" height="636.70" fill="none" stroke="#000" stroke-width="3.1"/>
<text y="428.40" font-family="'Liberation Sans', sans-serif" font-size="58.00" fill="#000" stroke="#000" stroke-width="0.4" transform="translate(0 428.40) scale(1 1.030) translate(0 -428.40)"><tspan x="113.99" font-size="58.00">1</tspan><tspan x="144.33" font-size="58.00">.0</tspan></text><path d="M116.31 430.40 h12.06 v-8.09 h-12.06 z M133.88 430.40 h11.60 v-8.09 h-11.60 z" fill="#fff"/>
<text y="693.15" font-family="'Liberation Sans', sans-serif" font-size="58.00" fill="#000" stroke="#000" stroke-width="0.4" transform="translate(0 693.15) scale(1 1.030) translate(0 -693.15)"><tspan x="112.07" font-size="58.00">0.5</tspan></text>
<text y="957.90" font-family="'Liberation Sans', sans-serif" font-size="58.00" fill="#000" stroke="#000" stroke-width="0.4" transform="translate(0 957.90) scale(1 1.030) translate(0 -957.90)"><tspan x="112.07" font-size="58.00">0.0</tspan></text>
<text y="1054.50" font-family="'Liberation Sans', sans-serif" font-size="58.00" fill="#000" stroke="#000" stroke-width="0.4" transform="translate(0 1054.50) scale(1 1.030) translate(0 -1054.50)"><tspan x="180.91" font-size="58.00">-4</tspan></text>
<text y="1054.50" font-family="'Liberation Sans', sans-serif" font-size="58.00" fill="#000" stroke="#000" stroke-width="0.4" transform="translate(0 1054.50) scale(1 1.030) translate(0 -1054.50)"><tspan x="740.42" font-size="58.00">0</tspan></text>
<text y="1054.50" font-family="'Liberation Sans', sans-serif" font-size="58.00" fill="#000" stroke="#000" stroke-width="0.4" transform="translate(0 1054.50) scale(1 1.030) translate(0 -1054.50)"><tspan x="1290.27" font-size="58.00">4</tspan></text>
<text x="574.60" y="1115.40" font-family="'Liberation Sans', sans-serif" font-size="58.5" stroke="#000" stroke-width="0.4">Distance <tspan x="819.40">(</tspan><tspan x="837.90" font-family="'Noto Serif CJK SC', 'Liberation Serif', serif" font-size="52.5" stroke-width="0.7">μ</tspan><tspan x="871.10">m</tspan><tspan x="924.50">)</tspan></text>
<text transform="translate(48.90 880.00) rotate(-90)" font-family="'Liberation Sans', sans-serif" font-size="58.5" stroke="#000" stroke-width="0.4">Intensity (a.u.)</text>
<text x="9.90" y="440.80" font-family="'Liberation Sans', sans-serif" font-weight="bold" font-size="85">d</text>
<text x="268.40" y="417.60" font-family="'Liberation Sans', sans-serif" font-size="50.5" stroke="#000" stroke-width="0.4">ML MoSe<tspan font-size="34" dy="12">2</tspan><tspan dy="-12">/t-hBN</tspan></text>
<text font-family="'Liberation Serif', serif" font-size="50" stroke="#000" stroke-width="0.9" stroke-linejoin="round"><tspan x="242.2" y="478.0" font-size="53">(</tspan><tspan x="262.0" y="478.0"> </tspan><tspan x="272.9" y="478.0" font-size="50">3</tspan><tspan x="298.6" y="478.0" font-size="50">.</tspan><tspan x="311.3" y="478.0" font-size="50">4</tspan><tspan x="337.1" y="485.2" font-size="67">×</tspan><tspan x="374.9" y="478.0" font-size="50">1</tspan><tspan x="402.7" y="478.0" font-size="50">0</tspan><tspan x="429.3" y="459.0" font-size="35">1</tspan><tspan x="449.9" y="459.0" font-size="35">1</tspan><tspan x="470.0" y="478.0"> </tspan><tspan x="483.9" y="478.0" font-size="51">c</tspan><tspan font-size="51">m</tspan><tspan x="548.4" y="464.6" font-size="44">−</tspan><tspan x="575.1" y="459.0" font-size="35">2</tspan><tspan x="600.0" y="487.3" font-size="69">/</tspan><tspan x="622.4" y="478.0" font-size="51" font-style="italic">s</tspan><tspan x="645.0" y="478.0"> </tspan><tspan x="657.9" y="478.0" font-size="53">)</tspan></text>
<use href="#sb" x="1054.5" y="417.9"/>
<text y="436.20" font-family="'Liberation Sans', sans-serif" font-size="58.30" fill="#000" stroke="#000" stroke-width="0.4"><tspan x="1168.86" font-size="59.47">0</tspan><tspan x="1201.93" font-size="58.30"> ps</tspan></text>
<use href="#sg" x="1054.5" y="489.5"/>
<text y="507.95" font-family="'Liberation Sans', sans-serif" font-size="58.30" fill="#000" stroke="#000" stroke-width="0.4"><tspan x="1168.86" font-size="59.47">5</tspan><tspan x="1201.93" font-size="58.30"> ps</tspan></text>
<use href="#sr" x="1054.5" y="561.1"/>
<text y="579.70" font-family="'Liberation Sans', sans-serif" font-size="58.30" fill="#000" stroke="#000" stroke-width="0.4"><tspan x="1137.75" font-size="59.47">1</tspan><tspan x="1168.86" font-size="59.47">0</tspan><tspan x="1201.93" font-size="58.30"> ps</tspan></text><path d="M1140.13 581.70 h12.37 v-8.24 h-12.37 z M1158.14 581.70 h11.89 v-8.24 h-11.89 z" fill="#fff"/>
<path d="M760.55 1481.00 v14.0 M760.55 2117.30 v-14.0 M210.70 1534.30 h14.0 M1310.40 1534.30 h-14.0 M210.70 1799.00 h14.0 M1310.40 1799.00 h-14.0 M210.70 2063.70 h14.0 M1310.40 2063.70 h-14.0" stroke="#000" stroke-width="3" fill="none"/>
<path d="M485.62 1481.00 v8.0 M485.62 2117.30 v-8.0 M1035.48 1481.00 v8.0 M1035.48 2117.30 v-8.0 M210.70 1666.65 h8.0 M1310.40 1666.65 h-8.0 M210.70 1931.35 h8.0 M1310.40 1931.35 h-8.0" stroke="#000" stroke-width="2.4" fill="none"/>
<g clip-path="url(#clip_h)">
<use href="#sb" x="263.0" y="2077.4"/>
<use href="#sb" x="334.5" y="2074.4"/>
<use href="#sb" x="406.0" y="2071.4"/>
<use href="#sb" x="477.5" y="2042.4"/>
<use href="#sb" x="549.9" y="1952.1"/>
<use href="#sb" x="620.0" y="1769.6"/>
<use href="#sb" x="690.5" y="1596.4"/>
<use href="#sb" x="761.5" y="1534.4"/>
<use href="#sb" x="836.5" y="1641.4"/>
<use href="#sb" x="908.0" y="1799.9"/>
<use href="#sb" x="980.0" y="1936.9"/>
<use href="#sb" x="1051.0" y="1999.9"/>
<use href="#sb" x="1122.5" y="2039.9"/>
<use href="#sb" x="1193.5" y="2056.4"/>
<use href="#sb" x="1266.2" y="2072.7"/>
<use href="#sg" x="289.0" y="2073.4"/>
<use href="#sg" x="360.5" y="2075.4"/>
<use href="#sg" x="432.0" y="2068.4"/>
<use href="#sg" x="504.0" y="2045.4"/>
<use href="#sg" x="575.5" y="1903.4"/>
<use href="#sg" x="646.5" y="1685.4"/>
<use href="#sg" x="719.5" y="1534.8"/>
<use href="#sg" x="790.5" y="1572.9"/>
<use href="#sg" x="862.5" y="1703.9"/>
<use href="#sg" x="934.5" y="1854.9"/>
<use href="#sg" x="1005.5" y="1963.9"/>
<use href="#sg" x="1077.5" y="2028.9"/>
<use href="#sg" x="1148.5" y="2048.4"/>
<use href="#sg" x="1219.5" y="2052.4"/>
<use href="#sg" x="1292.3" y="2080.4"/>
<use href="#sr" x="330.5" y="2060.4"/>
<use href="#sr" x="401.5" y="2062.4"/>
<use href="#sr" x="474.5" y="2066.4"/>
<use href="#sr" x="546.0" y="2010.9"/>
<use href="#sr" x="618.0" y="1831.9"/>
<use href="#sr" x="691.3" y="1634.4"/>
<use href="#sr" x="761.5" y="1531.4"/>
<use href="#sr" x="834.0" y="1650.4"/>
<use href="#sr" x="905.0" y="1846.9"/>
<use href="#sr" x="977.0" y="1983.9"/>
<use href="#sr" x="1048.5" y="2070.9"/>
<use href="#sr" x="1120.0" y="2083.9"/>
<use href="#sr" x="1191.5" y="2045.4"/>
<use href="#sr" x="1262.5" y="2059.4"/>
<path d="M210.7 2068.7 L216.2 2068.7 L221.7 2068.7 L227.2 2068.7 L232.7 2068.7 L238.2 2068.6 L243.7 2068.6 L249.2 2068.6 L254.7 2068.6 L260.2 2068.5 L265.7 2068.5 L271.2 2068.4 L276.7 2068.3 L282.2 2068.3 L287.7 2068.2 L293.2 2068.1 L298.7 2068.0 L304.2 2067.8 L309.7 2067.7 L315.2 2067.5 L320.7 2067.3 L326.2 2067.0 L331.7 2066.8 L337.2 2066.5 L342.7 2066.1 L348.2 2065.7 L353.7 2065.3 L359.2 2064.8 L364.7 2064.2 L370.2 2063.6 L375.7 2062.8 L381.2 2062.0 L386.7 2061.1 L392.2 2060.1 L397.6 2059.0 L403.1 2057.8 L408.6 2056.4 L414.1 2054.9 L419.6 2053.2 L425.1 2051.3 L430.6 2049.3 L436.1 2047.0 L441.6 2044.6 L447.1 2041.9 L452.6 2039.0 L458.1 2035.8 L463.6 2032.3 L469.1 2028.6 L474.6 2024.5 L480.1 2020.1 L485.6 2015.4 L491.1 2010.4 L496.6 2004.9 L502.1 1999.1 L507.6 1992.9 L513.1 1986.4 L518.6 1979.4 L524.1 1971.9 L529.6 1964.1 L535.1 1955.8 L540.6 1947.2 L546.1 1938.0 L551.6 1928.5 L557.1 1918.5 L562.6 1908.1 L568.1 1897.3 L573.6 1886.1 L579.1 1874.6 L584.6 1862.6 L590.1 1850.4 L595.6 1837.8 L601.1 1825.0 L606.6 1811.9 L612.1 1798.6 L617.6 1785.2 L623.1 1771.6 L628.6 1757.9 L634.1 1744.2 L639.6 1730.5 L645.1 1716.9 L650.6 1703.4 L656.1 1690.1 L661.6 1677.0 L667.1 1664.2 L672.6 1651.7 L678.1 1639.7 L683.6 1628.1 L689.1 1617.0 L694.6 1606.5 L700.1 1596.5 L705.6 1587.3 L711.1 1578.8 L716.6 1571.0 L722.1 1564.0 L727.6 1557.9 L733.1 1552.6 L738.6 1548.3 L744.1 1544.8 L749.6 1542.3 L755.1 1540.8 L760.5 1540.2 L766.0 1540.6 L771.5 1541.9 L777.0 1544.2 L782.5 1547.4 L788.0 1551.6 L793.5 1556.6 L799.0 1562.6 L804.5 1569.4 L810.0 1577.0 L815.5 1585.3 L821.0 1594.4 L826.5 1604.2 L832.0 1614.6 L837.5 1625.5 L843.0 1637.0 L848.5 1649.0 L854.0 1661.4 L859.5 1674.1 L865.0 1687.1 L870.5 1700.4 L876.0 1713.9 L881.5 1727.5 L887.0 1741.1 L892.5 1754.8 L898.0 1768.5 L903.5 1782.1 L909.0 1795.6 L914.5 1808.9 L920.0 1822.1 L925.5 1835.0 L931.0 1847.6 L936.5 1859.9 L942.0 1871.9 L947.5 1883.5 L953.0 1894.8 L958.5 1905.7 L964.0 1916.2 L969.5 1926.3 L975.0 1935.9 L980.5 1945.1 L986.0 1953.9 L991.5 1962.3 L997.0 1970.2 L1002.5 1977.7 L1008.0 1984.8 L1013.5 1991.5 L1019.0 1997.8 L1024.5 2003.7 L1030.0 2009.2 L1035.5 2014.3 L1041.0 2019.1 L1046.5 2023.6 L1052.0 2027.7 L1057.5 2031.5 L1063.0 2035.0 L1068.5 2038.3 L1074.0 2041.3 L1079.5 2044.0 L1085.0 2046.5 L1090.5 2048.8 L1096.0 2050.9 L1101.5 2052.8 L1107.0 2054.5 L1112.5 2056.1 L1118.0 2057.5 L1123.5 2058.7 L1128.9 2059.9 L1134.4 2060.9 L1139.9 2061.8 L1145.4 2062.7 L1150.9 2063.4 L1156.4 2064.1 L1161.9 2064.6 L1167.4 2065.2 L1172.9 2065.6 L1178.4 2066.0 L1183.9 2066.4 L1189.4 2066.7 L1194.9 2067.0 L1200.4 2067.2 L1205.9 2067.4 L1211.4 2067.6 L1216.9 2067.8 L1222.4 2067.9 L1227.9 2068.0 L1233.4 2068.2 L1238.9 2068.2 L1244.4 2068.3 L1249.9 2068.4 L1255.4 2068.5 L1260.9 2068.5 L1266.4 2068.5 L1271.9 2068.6 L1277.4 2068.6 L1282.9 2068.6 L1288.4 2068.7 L1293.9 2068.7 L1299.4 2068.7 L1304.9 2068.7 L1310.4 2068.7" fill="none" stroke="#0000d8" stroke-width="6.0" stroke-opacity="1.00" stroke-linejoin="round"/>
<path d="M210.7 2068.7 L216.2 2068.7 L221.7 2068.7 L227.2 2068.7 L232.7 2068.7 L238.2 2068.7 L243.7 2068.6 L249.2 2068.6 L254.7 2068.6 L260.2 2068.6 L265.7 2068.5 L271.2 2068.5 L276.7 2068.4 L282.2 2068.3 L287.7 2068.3 L293.2 2068.2 L298.7 2068.1 L304.2 2068.0 L309.7 2067.8 L315.2 2067.7 L320.7 2067.5 L326.2 2067.3 L331.7 2067.0 L337.2 2066.7 L342.7 2066.4 L348.2 2066.1 L353.7 2065.6 L359.2 2065.2 L364.7 2064.6 L370.2 2064.0 L375.7 2063.4 L381.2 2062.6 L386.7 2061.8 L392.2 2060.8 L397.6 2059.8 L403.1 2058.6 L408.6 2057.3 L414.1 2055.8 L419.6 2054.2 L425.1 2052.4 L430.6 2050.4 L436.1 2048.2 L441.6 2045.8 L447.1 2043.2 L452.6 2040.3 L458.1 2037.2 L463.6 2033.8 L469.1 2030.1 L474.6 2026.1 L480.1 2021.7 L485.6 2017.0 L491.1 2012.0 L496.6 2006.5 L502.1 2000.7 L507.6 1994.5 L513.1 1987.9 L518.6 1980.8 L524.1 1973.3 L529.6 1965.4 L535.1 1957.0 L540.6 1948.2 L546.1 1938.9 L551.6 1929.1 L557.1 1918.9 L562.6 1908.3 L568.1 1897.2 L573.6 1885.8 L579.1 1873.9 L584.6 1861.7 L590.1 1849.0 L595.6 1836.1 L601.1 1822.9 L606.6 1809.4 L612.1 1795.7 L617.6 1781.8 L623.1 1767.8 L628.6 1753.6 L634.1 1739.5 L639.6 1725.3 L645.1 1711.3 L650.6 1697.3 L656.1 1683.5 L661.6 1670.0 L667.1 1656.8 L672.6 1644.0 L678.1 1631.5 L683.6 1619.6 L689.1 1608.2 L694.6 1597.4 L700.1 1587.3 L705.6 1577.9 L711.1 1569.2 L716.6 1561.3 L722.1 1554.3 L727.6 1548.2 L733.1 1543.0 L738.6 1538.8 L744.1 1535.5 L749.6 1533.3 L755.1 1532.0 L760.5 1531.7 L766.0 1532.5 L771.5 1534.3 L777.0 1537.0 L782.5 1540.8 L788.0 1545.5 L793.5 1551.2 L799.0 1557.7 L804.5 1565.2 L810.0 1573.4 L815.5 1582.5 L821.0 1592.3 L826.5 1602.7 L832.0 1613.8 L837.5 1625.5 L843.0 1637.7 L848.5 1650.3 L854.0 1663.4 L859.5 1676.8 L865.0 1690.4 L870.5 1704.3 L876.0 1718.3 L881.5 1732.4 L887.0 1746.6 L892.5 1760.7 L898.0 1774.8 L903.5 1788.8 L909.0 1802.6 L914.5 1816.2 L920.0 1829.5 L925.5 1842.6 L931.0 1855.4 L936.5 1867.8 L942.0 1879.9 L947.5 1891.6 L953.0 1902.8 L958.5 1913.7 L964.0 1924.1 L969.5 1934.1 L975.0 1943.6 L980.5 1952.6 L986.0 1961.2 L991.5 1969.4 L997.0 1977.1 L1002.5 1984.4 L1008.0 1991.2 L1013.5 1997.7 L1019.0 2003.7 L1024.5 2009.3 L1030.0 2014.5 L1035.5 2019.4 L1041.0 2023.9 L1046.5 2028.1 L1052.0 2032.0 L1057.5 2035.5 L1063.0 2038.8 L1068.5 2041.8 L1074.0 2044.5 L1079.5 2047.0 L1085.0 2049.3 L1090.5 2051.4 L1096.0 2053.3 L1101.5 2055.0 L1107.0 2056.5 L1112.5 2057.9 L1118.0 2059.2 L1123.5 2060.3 L1128.9 2061.3 L1134.4 2062.2 L1139.9 2063.0 L1145.4 2063.7 L1150.9 2064.4 L1156.4 2064.9 L1161.9 2065.4 L1167.4 2065.9 L1172.9 2066.2 L1178.4 2066.6 L1183.9 2066.9 L1189.4 2067.1 L1194.9 2067.4 L1200.4 2067.6 L1205.9 2067.7 L1211.4 2067.9 L1216.9 2068.0 L1222.4 2068.1 L1227.9 2068.2 L1233.4 2068.3 L1238.9 2068.4 L1244.4 2068.4 L1249.9 2068.5 L1255.4 2068.5 L1260.9 2068.6 L1266.4 2068.6 L1271.9 2068.6 L1277.4 2068.7 L1282.9 2068.7 L1288.4 2068.7 L1293.9 2068.7 L1299.4 2068.7 L1304.9 2068.7 L1310.4 2068.7" fill="none" stroke="#0c7a0c" stroke-width="6.0" stroke-opacity="1.00" stroke-linejoin="round"/>
<path d="M210.7 2067.0 L216.2 2067.0 L221.7 2067.0 L227.2 2067.0 L232.7 2067.0 L238.2 2067.0 L243.7 2067.0 L249.2 2067.0 L254.7 2067.0 L260.2 2067.0 L265.7 2067.0 L271.2 2067.0 L276.7 2067.0 L282.2 2067.0 L287.7 2066.9 L293.2 2066.9 L298.7 2066.9 L304.2 2066.9 L309.7 2066.9 L315.2 2066.9 L320.7 2066.9 L326.2 2066.8 L331.7 2066.8 L337.2 2066.7 L342.7 2066.7 L348.2 2066.6 L353.7 2066.5 L359.2 2066.5 L364.7 2066.3 L370.2 2066.2 L375.7 2066.1 L381.2 2065.9 L386.7 2065.7 L392.2 2065.4 L397.6 2065.1 L403.1 2064.8 L408.6 2064.4 L414.1 2063.9 L419.6 2063.4 L425.1 2062.7 L430.6 2062.0 L436.1 2061.2 L441.6 2060.2 L447.1 2059.1 L452.6 2057.9 L458.1 2056.5 L463.6 2054.9 L469.1 2053.1 L474.6 2051.0 L480.1 2048.7 L485.6 2046.2 L491.1 2043.3 L496.6 2040.2 L502.1 2036.6 L507.6 2032.8 L513.1 2028.5 L518.6 2023.7 L524.1 2018.6 L529.6 2012.9 L535.1 2006.8 L540.6 2000.1 L546.1 1992.9 L551.6 1985.1 L557.1 1976.7 L562.6 1967.7 L568.1 1958.1 L573.6 1947.9 L579.1 1937.1 L584.6 1925.7 L590.1 1913.6 L595.6 1901.0 L601.1 1887.8 L606.6 1874.0 L612.1 1859.8 L617.6 1845.0 L623.1 1829.8 L628.6 1814.2 L634.1 1798.3 L639.6 1782.2 L645.1 1765.8 L650.6 1749.3 L656.1 1732.8 L661.6 1716.4 L667.1 1700.1 L672.6 1684.0 L678.1 1668.3 L683.6 1653.0 L689.1 1638.3 L694.6 1624.1 L700.1 1610.7 L705.6 1598.1 L711.1 1586.4 L716.6 1575.6 L722.1 1566.0 L727.6 1557.5 L733.1 1550.1 L738.6 1544.1 L744.1 1539.3 L749.6 1535.8 L755.1 1533.8 L760.5 1533.1 L766.0 1533.8 L771.5 1535.8 L777.0 1539.3 L782.5 1544.1 L788.0 1550.1 L793.5 1557.5 L799.0 1566.0 L804.5 1575.6 L810.0 1586.4 L815.5 1598.1 L821.0 1610.7 L826.5 1624.1 L832.0 1638.3 L837.5 1653.0 L843.0 1668.3 L848.5 1684.0 L854.0 1700.1 L859.5 1716.4 L865.0 1732.8 L870.5 1749.3 L876.0 1765.8 L881.5 1782.2 L887.0 1798.3 L892.5 1814.2 L898.0 1829.8 L903.5 1845.0 L909.0 1859.8 L914.5 1874.0 L920.0 1887.8 L925.5 1901.0 L931.0 1913.6 L936.5 1925.7 L942.0 1937.1 L947.5 1947.9 L953.0 1958.1 L958.5 1967.7 L964.0 1976.7 L969.5 1985.1 L975.0 1992.9 L980.5 2000.1 L986.0 2006.8 L991.5 2012.9 L997.0 2018.6 L1002.5 2023.7 L1008.0 2028.5 L1013.5 2032.8 L1019.0 2036.6 L1024.5 2040.2 L1030.0 2043.3 L1035.5 2046.2 L1041.0 2048.7 L1046.5 2051.0 L1052.0 2053.1 L1057.5 2054.9 L1063.0 2056.5 L1068.5 2057.9 L1074.0 2059.1 L1079.5 2060.2 L1085.0 2061.2 L1090.5 2062.0 L1096.0 2062.7 L1101.5 2063.4 L1107.0 2063.9 L1112.5 2064.4 L1118.0 2064.8 L1123.5 2065.1 L1128.9 2065.4 L1134.4 2065.7 L1139.9 2065.9 L1145.4 2066.1 L1150.9 2066.2 L1156.4 2066.3 L1161.9 2066.5 L1167.4 2066.5 L1172.9 2066.6 L1178.4 2066.7 L1183.9 2066.7 L1189.4 2066.8 L1194.9 2066.8 L1200.4 2066.9 L1205.9 2066.9 L1211.4 2066.9 L1216.9 2066.9 L1222.4 2066.9 L1227.9 2066.9 L1233.4 2066.9 L1238.9 2067.0 L1244.4 2067.0 L1249.9 2067.0 L1255.4 2067.0 L1260.9 2067.0 L1266.4 2067.0 L1271.9 2067.0 L1277.4 2067.0 L1282.9 2067.0 L1288.4 2067.0 L1293.9 2067.0 L1299.4 2067.0 L1304.9 2067.0 L1310.4 2067.0" fill="none" stroke="#ff0000" stroke-width="6.0" stroke-opacity="1.00" stroke-linejoin="round"/>
<path d="M210.7 2064.7 L216.2 2064.7 L221.7 2064.7 L227.2 2064.7 L232.7 2064.7 L238.2 2064.6 L243.7 2064.6 L249.2 2064.6 L254.7 2064.6 L260.2 2064.5 L265.7 2064.5 L271.2 2064.4 L276.7 2064.4 L282.2 2064.3 L287.7 2064.2 L293.2 2064.2 L298.7 2064.1 L304.2 2063.9 L309.7 2063.8 L315.2 2063.6 L320.7 2063.5 L326.2 2063.2 L331.7 2063.0 L337.2 2062.7 L342.7 2062.4 L348.2 2062.0 L353.7 2061.6 L359.2 2061.2 L364.7 2060.7 L370.2 2060.1 L375.7 2059.4 L381.2 2058.6 L386.7 2057.8 L392.2 2056.9 L397.6 2055.8 L403.1 2054.6 L408.6 2053.3 L414.1 2051.9 L419.6 2050.3 L425.1 2048.5 L430.6 2046.5 L436.1 2044.3 L441.6 2042.0 L447.1 2039.4 L452.6 2036.5 L458.1 2033.4 L463.6 2030.0 L469.1 2026.3 L474.6 2022.3 L480.1 2018.0 L485.6 2013.4 L491.1 2008.4 L496.6 2003.0 L502.1 1997.2 L507.6 1991.0 L513.1 1984.4 L518.6 1977.4 L524.1 1970.0 L529.6 1962.1 L535.1 1953.8 L540.6 1945.0 L546.1 1935.8 L551.6 1926.1 L557.1 1916.0 L562.6 1905.5 L568.1 1894.5 L573.6 1883.1 L579.1 1871.3 L584.6 1859.2 L590.1 1846.7 L595.6 1833.8 L601.1 1820.7 L606.6 1807.3 L612.1 1793.7 L617.6 1779.9 L623.1 1766.0 L628.6 1752.0 L634.1 1737.9 L639.6 1723.9 L645.1 1709.9 L650.6 1696.0 L656.1 1682.4 L661.6 1669.0 L667.1 1655.8 L672.6 1643.1 L678.1 1630.7 L683.6 1618.9 L689.1 1607.6 L694.6 1596.9 L700.1 1586.8 L705.6 1577.5 L711.1 1568.9 L716.6 1561.1 L722.1 1554.1 L727.6 1548.1 L733.1 1542.9 L738.6 1538.7 L744.1 1535.5 L749.6 1533.2 L755.1 1531.9 L760.5 1531.7 L766.0 1532.4 L771.5 1534.2 L777.0 1536.9 L782.5 1540.7 L788.0 1545.4 L793.5 1551.0 L799.0 1557.5 L804.5 1564.9 L810.0 1573.1 L815.5 1582.0 L821.0 1591.8 L826.5 1602.1 L832.0 1613.2 L837.5 1624.8 L843.0 1636.9 L848.5 1649.4 L854.0 1662.3 L859.5 1675.6 L865.0 1689.2 L870.5 1702.9 L876.0 1716.9 L881.5 1730.9 L887.0 1744.9 L892.5 1759.0 L898.0 1772.9 L903.5 1786.8 L909.0 1800.5 L914.5 1814.0 L920.0 1827.3 L925.5 1840.3 L931.0 1852.9 L936.5 1865.3 L942.0 1877.3 L947.5 1888.9 L953.0 1900.0 L958.5 1910.8 L964.0 1921.1 L969.5 1931.0 L975.0 1940.5 L980.5 1949.5 L986.0 1958.0 L991.5 1966.1 L997.0 1973.8 L1002.5 1981.0 L1008.0 1987.8 L1013.5 1994.2 L1019.0 2000.1 L1024.5 2005.7 L1030.0 2010.9 L1035.5 2015.7 L1041.0 2020.2 L1046.5 2024.4 L1052.0 2028.2 L1057.5 2031.7 L1063.0 2035.0 L1068.5 2038.0 L1074.0 2040.7 L1079.5 2043.2 L1085.0 2045.4 L1090.5 2047.5 L1096.0 2049.4 L1101.5 2051.1 L1107.0 2052.6 L1112.5 2054.0 L1118.0 2055.2 L1123.5 2056.3 L1128.9 2057.3 L1134.4 2058.2 L1139.9 2059.0 L1145.4 2059.7 L1150.9 2060.4 L1156.4 2060.9 L1161.9 2061.4 L1167.4 2061.8 L1172.9 2062.2 L1178.4 2062.6 L1183.9 2062.9 L1189.4 2063.1 L1194.9 2063.4 L1200.4 2063.5 L1205.9 2063.7 L1211.4 2063.9 L1216.9 2064.0 L1222.4 2064.1 L1227.9 2064.2 L1233.4 2064.3 L1238.9 2064.4 L1244.4 2064.4 L1249.9 2064.5 L1255.4 2064.5 L1260.9 2064.6 L1266.4 2064.6 L1271.9 2064.6 L1277.4 2064.6 L1282.9 2064.7 L1288.4 2064.7 L1293.9 2064.7 L1299.4 2064.7 L1304.9 2064.7 L1310.4 2064.7" fill="none" stroke="#a8a8a8" stroke-width="2.2" stroke-opacity="0.85" stroke-linejoin="round" stroke-dasharray="13.5 18.6"/>
</g>
<rect x="210.70" y="1481.00" width="1099.70" height="636.30" fill="none" stroke="#000" stroke-width="3.1"/>
<text y="1551.90" font-family="'Liberation Sans', sans-serif" font-size="58.00" fill="#000" stroke="#000" stroke-width="0.4" transform="translate(0 1551.90) scale(1 1.030) translate(0 -1551.90)"><tspan x="116.69" font-size="58.00">1</tspan><tspan x="147.03" font-size="58.00">.0</tspan></text><path d="M119.01 1553.90 h12.06 v-8.09 h-12.06 z M136.58 1553.90 h11.60 v-8.09 h-11.60 z" fill="#fff"/>
<text y="1816.60" font-family="'Liberation Sans', sans-serif" font-size="58.00" fill="#000" stroke="#000" stroke-width="0.4" transform="translate(0 1816.60) scale(1 1.030) translate(0 -1816.60)"><tspan x="114.77" font-size="58.00">0.5</tspan></text>
<text y="2081.30" font-family="'Liberation Sans', sans-serif" font-size="58.00" fill="#000" stroke="#000" stroke-width="0.4" transform="translate(0 2081.30) scale(1 1.030) translate(0 -2081.30)"><tspan x="114.77" font-size="58.00">0.0</tspan></text>
<text y="2177.40" font-family="'Liberation Sans', sans-serif" font-size="58.00" fill="#000" stroke="#000" stroke-width="0.4" transform="translate(0 2177.40) scale(1 1.030) translate(0 -2177.40)"><tspan x="183.61" font-size="58.00">-4</tspan></text>
<text y="2177.40" font-family="'Liberation Sans', sans-serif" font-size="58.00" fill="#000" stroke="#000" stroke-width="0.4" transform="translate(0 2177.40) scale(1 1.030) translate(0 -2177.40)"><tspan x="743.12" font-size="58.00">0</tspan></text>
<text y="2177.40" font-family="'Liberation Sans', sans-serif" font-size="58.00" fill="#000" stroke="#000" stroke-width="0.4" transform="translate(0 2177.40) scale(1 1.030) translate(0 -2177.40)"><tspan x="1292.97" font-size="58.00">4</tspan></text>
<text x="577.60" y="2237.40" font-family="'Liberation Sans', sans-serif" font-size="58.5" stroke="#000" stroke-width="0.4">Distance <tspan x="822.40">(</tspan><tspan x="840.90" font-family="'Noto Serif CJK SC', 'Liberation Serif', serif" font-size="52.5" stroke-width="0.7">μ</tspan><tspan x="874.10">m</tspan><tspan x="927.50">)</tspan></text>
<text transform="translate(51.60 2000.90) rotate(-90)" font-family="'Liberation Sans', sans-serif" font-size="58.5" stroke="#000" stroke-width="0.4">Intensity (a.u.)</text>
<text x="10.10" y="1566.00" font-family="'Liberation Sans', sans-serif" font-weight="bold" font-size="85">h</text>
<text x="265.90" y="1541.90" font-family="'Liberation Sans', sans-serif" font-size="50.5" stroke="#000" stroke-width="0.4">ML MoSe<tspan font-size="34" dy="12">2</tspan><tspan dy="-12">/t-hBN</tspan></text>
<text font-family="'Liberation Serif', serif" font-size="50" stroke="#000" stroke-width="0.9" stroke-linejoin="round"><tspan x="239.7" y="1602.3" font-size="53">(</tspan><tspan x="259.5" y="1602.3"> </tspan><tspan x="270.6" y="1602.3" font-size="50">2</tspan><tspan x="296.1" y="1602.3" font-size="50">.</tspan><tspan x="307.9" y="1602.3" font-size="50">0</tspan><tspan x="334.6" y="1609.5" font-size="67">×</tspan><tspan x="372.4" y="1602.3" font-size="50">1</tspan><tspan x="400.2" y="1602.3" font-size="50">0</tspan><tspan x="426.8" y="1583.3" font-size="35">1</tspan><tspan x="448.2" y="1583.3" font-size="35">2</tspan><tspan x="467.5" y="1602.3"> </tspan><tspan x="481.4" y="1602.3" font-size="51">c</tspan><tspan font-size="51">m</tspan><tspan x="545.9" y="1588.9" font-size="44">−</tspan><tspan x="572.6" y="1583.3" font-size="35">2</tspan><tspan x="597.5" y="1611.6" font-size="69">/</tspan><tspan x="619.9" y="1602.3" font-size="51" font-style="italic">s</tspan><tspan x="642.5" y="1602.3"> </tspan><tspan x="655.4" y="1602.3" font-size="53">)</tspan></text>
<use href="#sb" x="1057.0" y="1542.0"/>
<text y="1561.40" font-family="'Liberation Sans', sans-serif" font-size="58.30" fill="#000" stroke="#000" stroke-width="0.4"><tspan x="1170.96" font-size="59.47">0</tspan><tspan x="1204.03" font-size="58.30"> ps</tspan></text>
<use href="#sg" x="1057.0" y="1613.6"/>
<text y="1633.15" font-family="'Liberation Sans', sans-serif" font-size="58.30" fill="#000" stroke="#000" stroke-width="0.4"><tspan x="1170.96" font-size="59.47">5</tspan><tspan x="1204.03" font-size="58.30"> ps</tspan></text>
<use href="#sr" x="1057.0" y="1685.2"/>
<text y="1704.90" font-family="'Liberation Sans', sans-serif" font-size="58.30" fill="#000" stroke="#000" stroke-width="0.4"><tspan x="1139.85" font-size="59.47">1</tspan><tspan x="1170.96" font-size="59.47">0</tspan><tspan x="1204.03" font-size="58.30"> ps</tspan></text><path d="M1142.23 1706.90 h12.37 v-8.24 h-12.37 z M1160.24 1706.90 h11.89 v-8.24 h-11.89 z" fill="#fff"/></svg></body></html>
